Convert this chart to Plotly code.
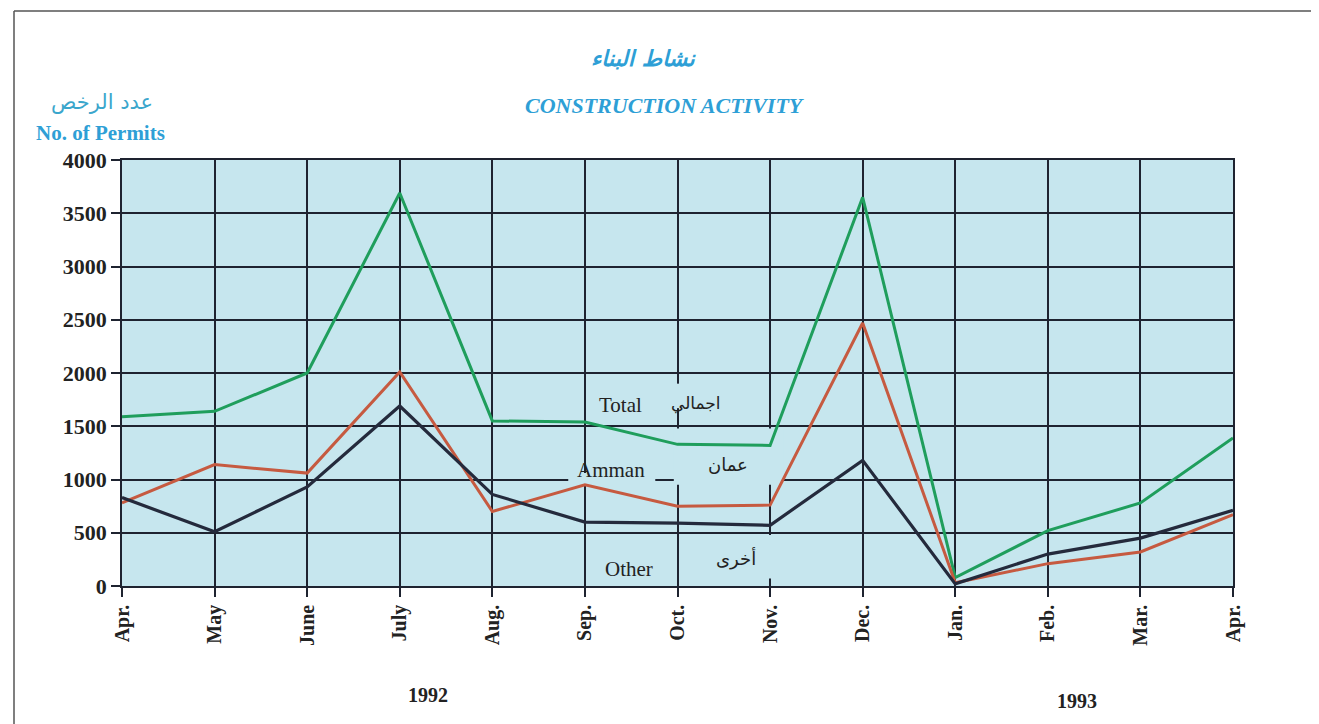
import plotly.graph_objects as go

months = ["Apr.", "May", "June", "July", "Aug.", "Sep.", "Oct.", "Nov.", "Dec.",
          "Jan.", "Feb.", "Mar.", "Apr."]
total = [1590, 1640, 2000, 3690, 1550, 1540, 1330, 1320, 3650, 80, 520, 780, 1390]
amman = [780, 1140, 1060, 2010, 700, 950, 750, 760, 2470, 30, 210, 320, 670]
other = [830, 510, 930, 1690, 860, 600, 590, 570, 1180, 20, 300, 450, 710]
y_ticks = [0, 500, 1000, 1500, 2000, 2500, 3000, 3500, 4000]

OFF = 8  # page body margin
W, H = 1319 - OFF, 724 - OFF
# plot area in page pixels
L, R, T, B = 122, 1233, 160, 586


def px(x):
    return (x - L) / (R - L)


def py(y):
    return (B - y) / (B - T)


xs = list(range(len(months)))
fig = go.Figure()
fig.add_trace(go.Scatter(x=xs, y=total, mode="lines", line=dict(color="#1f9e5c", width=3), name="Total"))
fig.add_trace(go.Scatter(x=xs, y=amman, mode="lines", line=dict(color="#c65a40", width=3), name="Amman"))
fig.add_trace(go.Scatter(x=xs, y=other, mode="lines", line=dict(color="#242a3c", width=3.2), name="Other"))

blue = "#2e9fd6"
serif = "Liberation Serif"
arab = "DejaVu Sans"
ann = []


def A(text, x, y, size, color="#222", family=serif, bold=False, italic=False):
    t = text
    if bold:
        t = "<b>" + t + "</b>"
    if italic:
        t = "<i>" + t + "</i>"
    ann.append(dict(text=t, x=px(x), y=py(y), xref="paper", yref="paper", showarrow=False,
                    xanchor="center", yanchor="middle",
                    font=dict(size=size, color=color, family=family)))


A("نشاط البناء", 643, 58, 22, blue, arab, bold=True, italic=True)
A("CONSTRUCTION ACTIVITY", 665, 105, 22, blue, serif, bold=True, italic=True)
A("عدد الرخص", 102, 102, 21, "#3aa6cc", arab)
A("No. of Permits", 100, 133, 21, blue, serif, bold=True)
A("Total", 620, 405, 21, "#222")
A("اجمالي", 696, 403, 17, "#222", arab)
A("Amman", 611, 470, 21, "#222")
A("عمان", 728, 464, 18, "#222", arab)
A("Other", 629, 569, 21, "#222")
A("أخرى", 736, 558, 18, "#222", arab)
A("1992", 428, 695, 20, "#222", serif, bold=True)
A("1993", 1077, 701, 20, "#222", serif, bold=True)

bg = "#c6e6ee"
shapes = [
    # gaps in the grid around the in-chart labels
    dict(type="rect", xref="x", yref="y", x0=4.82, x1=5.76, y0=940, y1=1060, fillcolor=bg, line_width=0, layer="between"),
    dict(type="rect", xref="x", yref="y", x0=5.96, x1=7.15, y0=950, y1=1480, fillcolor=bg, line_width=0, layer="between"),
    dict(type="rect", xref="x", yref="y", x0=6.4, x1=7.08, y0=70, y1=480, fillcolor=bg, line_width=0, layer="between"),
    dict(type="rect", xref="x", yref="y", x0=5.9, x1=6.1, y0=1670, y1=1900, fillcolor=bg, line_width=0, layer="between"),
    # outer frame
    dict(type="line", xref="paper", yref="paper", x0=px(14), x1=px(1330), y0=py(11), y1=py(11),
         line=dict(color="#555", width=1.5)),
    dict(type="line", xref="paper", yref="paper", x0=px(14), x1=px(14), y0=py(11), y1=py(730),
         line=dict(color="#555", width=1.5)),
]

fig.update_layout(
    width=W, height=H,
    margin=dict(l=L - OFF, r=W + OFF - R, t=T - OFF, b=H + OFF - B),
    paper_bgcolor="white", plot_bgcolor=bg,
    showlegend=False,
    annotations=ann, shapes=shapes,
    xaxis=dict(range=[0, 12], tickvals=xs, ticktext=[f"<b>{m}</b>" for m in months],
               tickangle=-90, showgrid=True, gridcolor="#1e2330", gridwidth=1.5,
               showline=True, linecolor="#1e2330", linewidth=1.5, mirror=True,
               ticks="outside", ticklen=9, tickcolor="#1e2330", tickwidth=1.5,
               tickfont=dict(family=serif, size=20, color="#222"), zeroline=False),
    yaxis=dict(range=[0, 4000], tickvals=y_ticks, ticktext=[f"<b>{v}</b>" for v in y_ticks],
               showgrid=True, gridcolor="#1e2330", gridwidth=1.5,
               showline=True, linecolor="#1e2330", linewidth=1.5, mirror=True,
               ticks="outside", ticklen=9, tickcolor="#1e2330", tickwidth=1.5,
               tickfont=dict(family=serif, size=22, color="#222"), zeroline=False),
)

fig.write_html("out.html")
